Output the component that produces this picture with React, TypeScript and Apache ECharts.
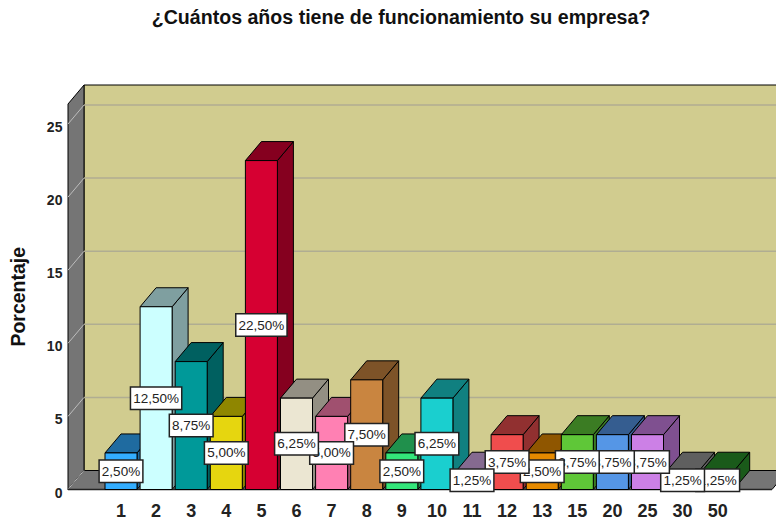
import React, { useEffect, useRef } from "react";
import * as echarts from "echarts";

const categories = ["1", "2", "3", "4", "5", "6", "7", "8", "9", "10", "11", "12", "13", "15", "20", "25", "30", "50"];
const percentages = [2.5, 12.5, 8.75, 5, 22.5, 6.25, 5, 7.5, 2.5, 6.25, 1.25, 3.75, 2.5, 3.75, 3.75, 3.75, 1.25, 1.25];
const frontColors = ["#33ADFF", "#CCFFFF", "#009999", "#E6D60F", "#D60032", "#EBE6D2", "#FF80B3", "#C98540", "#33E67A", "#1ACFCF", "#D5A8E8", "#F04D4D", "#E68A00", "#5FC738", "#5596E6", "#CC80E6", "#999999", "#2A9020"];
const darkColors = ["#1F6BA0", "#7F9FA0", "#006060", "#8F8600", "#85001F", "#938F83", "#A0506F", "#7D5328", "#20904C", "#108080", "#856A90", "#913030", "#8F5600", "#3B7C23", "#355D90", "#7F5090", "#5F5F5F", "#1A5A1A"];
const yTicks = [0, 5, 10, 15, 20, 25];
const titleText = "¿Cuántos años tiene de funcionamiento su empresa?";
const yName = "Porcentaje";

const DX = 16;
const DY = 19;
const WALL_LEFT = 68;
const WALL_RIGHT = 772;
const BAR_WIDTH = 32;
const FONT = "Liberation Sans, Arial, sans-serif";

function poly(points: number[][], fill: string, stroke = "#000", lineWidth = 1, z2 = 0) {
  return { type: "polygon", z2, shape: { points }, style: { fill, stroke, lineWidth } };
}

function line(x1: number, y1: number, x2: number, y2: number, stroke: string, lineWidth = 1) {
  return { type: "line", shape: { x1, y1, x2, y2 }, style: { stroke, lineWidth } };
}

function renderWalls(params: any, api: any) {
  const cs = params.coordSys;
  const top = cs.y;
  const bottom = cs.y + cs.height;
  const children: any[] = [
    poly([[WALL_LEFT + DX, top - DY], [WALL_RIGHT + DX + 20, top - DY], [WALL_RIGHT + DX + 20, bottom - DY], [WALL_LEFT + DX, bottom - DY]], "#D1CC8F"),
    poly([[WALL_LEFT, top], [WALL_LEFT + DX, top - DY], [WALL_LEFT + DX, bottom - DY], [WALL_LEFT, bottom]], "#757575"),
    poly([[WALL_LEFT, bottom], [WALL_LEFT + DX, bottom - DY], [WALL_RIGHT + DX, bottom - DY], [WALL_RIGHT, bottom]], "#757575"),
  ];
  yTicks.forEach((t) => {
    if (t === 0) return;
    const y = api.coord([0, t])[1];
    children.push(line(WALL_LEFT, y, WALL_LEFT + DX, y - DY, "#BDBDBD", 1));
    children.push(line(WALL_LEFT + DX, y - DY, WALL_RIGHT + DX + 20, y - DY, "#B0AD92", 1.5));
  });
  children.push(line(WALL_LEFT, bottom, WALL_LEFT + DX, bottom - DY, "#BDBDBD", 1));
  children.push(line(WALL_LEFT, bottom, WALL_RIGHT, bottom, "#222", 1.5));
  return { type: "group", children };
}

function renderBar(params: any, api: any) {
  const i = api.value(0);
  const v = api.value(1);
  const [cx, yTop] = api.coord([i, v]);
  const [, yBase] = api.coord([i, 0]);
  const l = cx - BAR_WIDTH / 2;
  const r = cx + BAR_WIDTH / 2;
  const front = frontColors[i];
  const dark = darkColors[i];
  return {
    type: "group",
    children: [
      poly([[r, yTop], [r + DX, yTop - DY], [r + DX, yBase - DY], [r, yBase]], dark),
      poly([[l, yTop], [l + DX, yTop - DY], [r + DX, yTop - DY], [r, yTop]], dark),
      poly([[l, yTop], [r, yTop], [r, yBase], [l, yBase]], front),
    ],
  };
}

function renderLabel(params: any, api: any) {
  const i = api.value(0);
  const v = api.value(1);
  const [cx, yTop] = api.coord([i, v]);
  const [, yBase] = api.coord([i, 0]);
  return {
    type: "text",
    z2: 100 - i,
    x: cx,
    y: (yTop + yBase) / 2,
    style: {
      text: v.toFixed(2).replace(".", ",") + "%",
      align: "center",
      verticalAlign: "middle",
      fill: "#222",
      font: `13.5px ${FONT}`,
      backgroundColor: "#fff",
      borderColor: "#222",
      borderWidth: 1.5,
      padding: [4, 2, 3, 2],
    },
  };
}

export default function App() {
  const ref = useRef<HTMLDivElement>(null);
  useEffect(() => {
    const chart = echarts.init(ref.current!, undefined, { renderer: "svg" });
    const data = percentages.map((v, i) => [i, v]);
    chart.setOption({
      animation: false,
      backgroundColor: "#fff",
      title: {
        text: titleText,
        left: 396,
        top: 2,
        textAlign: "center",
        textStyle: { fontFamily: FONT, fontSize: 19.6, fontWeight: "bold", color: "#111" },
      },
      grid: { left: 103.45, right: 40.75, top: 104, bottom: 29.5, outerBoundsMode: "none" },
      xAxis: {
        type: "category",
        data: categories,
        axisLine: { show: false },
        axisTick: { show: false },
        axisLabel: { margin: 12, interval: 0, fontFamily: FONT, fontSize: 18, fontWeight: "bold", color: "#222" },
      },
      yAxis: {
        type: "value",
        min: 0,
        max: 26.37,
        interval: 5,
        splitLine: { show: false },
        axisLine: { show: false },
        axisTick: { show: false },
        axisLabel: {
          customValues: yTicks,
          margin: 41,
          verticalAlign: "top",
          lineHeight: 6,
          fontFamily: FONT,
          fontSize: 14,
          fontWeight: "bold",
          color: "#222",
        },
        name: yName,
        nameLocation: "middle",
        nameRotate: 90,
        nameGap: 75,
        nameTextStyle: { fontFamily: FONT, fontSize: 19.5, fontWeight: "bold", color: "#111" },
      },
      series: [
        { type: "custom", name: "walls", silent: true, z: 1, data: [[0, 0]], renderItem: renderWalls },
        { type: "custom", name: "bars", z: 2, data, encode: { x: 0, y: 1 }, renderItem: renderBar },
        { type: "custom", name: "labels", z: 3, data, encode: { x: 0, y: 1 }, renderItem: renderLabel },
      ],
    });
    return () => chart.dispose();
  }, []);
  return <div ref={ref} style={{ position: "absolute", left: 0, top: 0, width: 776, height: 519 }} />;
}
